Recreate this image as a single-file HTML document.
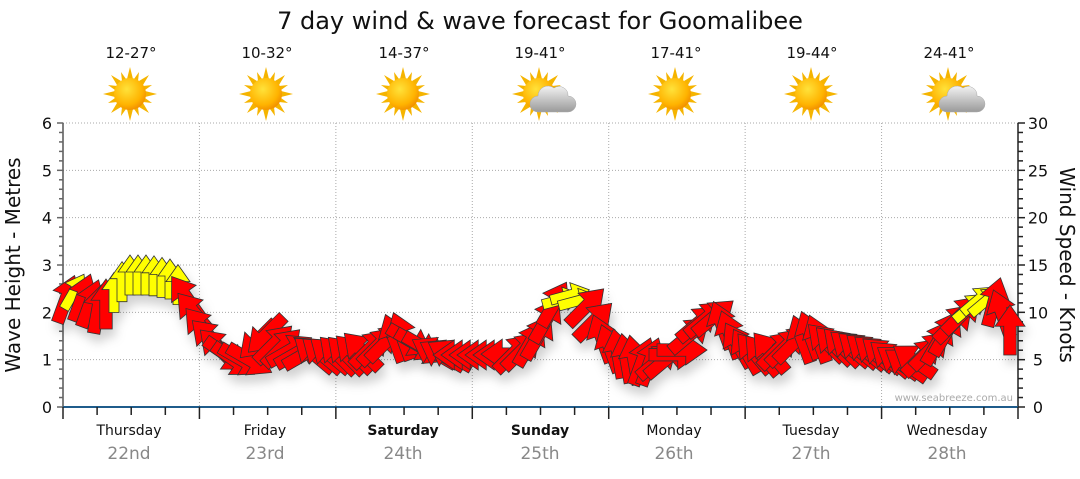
<!DOCTYPE html>
<html><head><meta charset="utf-8"><style>
body{margin:0;background:#fff;width:1080px;height:475px;overflow:hidden;font-family:"DejaVu Sans","Liberation Sans",sans-serif;}
</style></head><body>
<svg id="s" width="1080" height="475" xmlns="http://www.w3.org/2000/svg" font-family="DejaVu Sans, Liberation Sans, sans-serif">
<defs>
<radialGradient id="sg" cx="0.4" cy="0.35" r="0.7"><stop offset="0" stop-color="#ffe23a"/><stop offset="0.7" stop-color="#ffb300"/><stop offset="1" stop-color="#f08a00"/></radialGradient>
<linearGradient id="cg" x1="0" y1="0" x2="0" y2="1"><stop offset="0" stop-color="#f2f2f2"/><stop offset="1" stop-color="#9a9a9a"/></linearGradient>
<filter id="sh" x="-50%" y="-50%" width="200%" height="200%"><feDropShadow dx="3" dy="8" stdDeviation="5" flood-color="#000" flood-opacity="0.18"/></filter>
<g id="sun">
<g fill="#f5b400">
<polygon points="0,-27 3,-15 -3,-15"/><polygon points="0,27 3,15 -3,15"/><polygon points="-27,0 -15,3 -15,-3"/><polygon points="27,0 15,3 15,-3"/>
<polygon points="-19,-19 -9,-13 -13,-9"/><polygon points="19,-19 9,-13 13,-9"/><polygon points="-19,19 -9,13 -13,9"/><polygon points="19,19 9,13 13,9"/>
<polygon points="-9,-22 -4,-15 -8,-13"/><polygon points="9,-22 4,-15 8,-13"/><polygon points="-9,22 -4,15 -8,13"/><polygon points="9,22 4,15 8,13"/>
<polygon points="-22,-9 -15,-4 -13,-8"/><polygon points="22,-9 15,-4 13,-8"/><polygon points="-22,9 -15,4 -13,8"/><polygon points="22,9 15,4 13,8"/>
</g>
<circle r="16" fill="url(#sg)"/>
</g>
<g id="cloud"><path d="M-2,18 h30 a8,8 0 0 0 0,-16 a9,9 0 0 0 -14,-8 a10,10 0 0 0 -16,8 a8,8 0 0 0 0,16z" fill="url(#cg)" stroke="#aaa" stroke-width="0.5"/></g>
</defs>
<text x="540" y="29" font-size="24" text-anchor="middle" fill="#111">7 day wind &amp; wave forecast for Goomalibee</text>
<g font-size="15" fill="#111" text-anchor="middle">
<text x="131" y="58">12-27°</text><text x="267" y="58">10-32°</text><text x="404" y="58">14-37°</text><text x="540" y="58">19-41°</text><text x="676" y="58">17-41°</text><text x="812" y="58">19-44°</text><text x="949" y="58">24-41°</text>
</g>
<use href="#sun" x="130" y="94"/><use href="#sun" x="266" y="94"/><use href="#sun" x="403" y="94"/><use href="#sun" x="539" y="94"/><use href="#cloud" x="540" y="94"/>
<use href="#sun" x="675" y="94"/><use href="#sun" x="811" y="94"/><use href="#sun" x="948" y="94"/><use href="#cloud" x="949" y="94"/>
<g id="grid" stroke="#aaa" stroke-dasharray="1,2" stroke-width="1"></g>
<g id="ax" stroke="#444" stroke-width="1.5"></g>
<g id="arrows" filter="url(#sh)"></g>
<text x="1013" y="401" font-size="10" fill="#aaa" text-anchor="end">www.seabreeze.com.au</text>
<g id="lbl" fill="#111" font-size="16"></g>
<text transform="translate(20,265) rotate(-90)" font-size="20" text-anchor="middle" fill="#111">Wave Height - Metres</text>
<text transform="translate(1060,265) rotate(90)" font-size="20" text-anchor="middle" fill="#111">Wind Speed - Knots</text>
<g font-size="14" text-anchor="middle" fill="#111">
<text x="129" y="435">Thursday</text><text x="265" y="435">Friday</text><text x="403" y="435" font-weight="bold">Saturday</text><text x="540" y="435" font-weight="bold">Sunday</text><text x="674" y="435">Monday</text><text x="811" y="435">Tuesday</text><text x="947" y="435">Wednesday</text>
</g>
<g font-size="17" text-anchor="middle" fill="#888">
<text x="129" y="459">22nd</text><text x="265" y="459">23rd</text><text x="403" y="459">24th</text><text x="540" y="459">25th</text><text x="674" y="459">26th</text><text x="811" y="459">27th</text><text x="947" y="459">28th</text>
</g>
</svg>
<script>
var NS="http://www.w3.org/2000/svg";
function el(p,t,a){var e=document.createElementNS(NS,t);for(var k in a)e.setAttribute(k,a[k]);p.appendChild(e);return e;}
var L=63,R=1018,T=123,B=407,g=document.getElementById('grid'),ax=document.getElementById('ax'),lb=document.getElementById('lbl');
for(var i=1;i<7;i++){var y=B-i*(B-T)/6;el(g,'line',{x1:L,x2:R,y1:y,y2:y});var x=L+i*(R-L)/7;el(g,'line',{x1:x,x2:x,y1:T,y2:B});}
el(ax,'line',{x1:L,x2:L,y1:T,y2:B,stroke:'#555'});el(ax,'line',{x1:R,x2:R,y1:T,y2:B,stroke:'#222'});
el(ax,'line',{x1:L,x2:R,y1:B,y2:B,stroke:'#1f5c8b','stroke-width':2});
for(var i=0;i<=30;i++){var y=B-i*(B-T)/30;var big=i%5==0;el(ax,'line',{x1:L-(big?6:4),x2:L,y1:y,y2:y,stroke:'#666'});el(ax,'line',{x1:R,x2:R+(big?7:5),y1:y,y2:y,stroke:'#222'});
 if(big){var t=el(lb,'text',{x:L-16,y:y+6,'text-anchor':'middle'});t.textContent=i/5;var t2=el(lb,'text',{x:R+20,y:y+6,'text-anchor':'middle'});t2.textContent=i;}}
for(var i=0;i<=28;i++){var x=L+i*(R-L)/28;el(ax,'line',{x1:x,x2:x,y1:B,y2:B+(i%4==0?12:8),stroke:'#222'});}
var K=[[62,305,20,'r'],[72,290,30,'y'],[85,300,20,'r'],[100,310,10,'r'],[110,300,0,'r'],[118,285,0,'y'],[130,275,0,'y'],[150,275,0,'y'],[175,280,0,'y'],[188,300,-35,'r'],[200,325,-40,'r'],[215,345,-45,'r'],[232,360,125,'r'],[250,360,120,'r'],[262,330,225,'r'],[275,345,45,'r'],[295,352,60,'r'],[320,355,-50,'r'],[350,355,-45,'r'],[380,345,45,'r'],[400,335,-20,'r'],[418,345,120,'r'],[440,355,-60,'r'],[470,355,270,'r'],[500,355,270,'r'],[520,352,45,'r'],[540,335,30,'r'],[552,305,30,'r'],[570,295,75,'y'],[588,308,45,'r'],[605,345,-20,'r'],[625,358,-10,'r'],[645,362,20,'r'],[665,360,50,'r'],[682,350,90,'r'],[695,325,50,'r'],[712,315,50,'r'],[725,328,-20,'r'],[742,350,-30,'r'],[762,355,-40,'r'],[790,345,45,'r'],[810,335,-20,'r'],[832,345,-45,'r'],[860,350,-50,'r'],[882,355,-50,'r'],[905,365,-55,'r'],[925,355,45,'r'],[942,338,30,'r'],[958,318,45,'r'],[978,300,50,'y'],[995,302,15,'r'],[1006,320,-20,'r'],[1012,335,0,'r']];
var A=document.getElementById('arrows');
function arrow(x,y,a,c){var big=c=='r';var s=big?1.25:1.0;
 var p=[[0,-20],[12,-3],[5,-3],[5,20],[-5,20],[-5,-3],[-12,-3]].map(function(q){return (q[0]*s)+','+(q[1]*s)}).join(' ');
 el(A,'polygon',{points:p,transform:'translate('+x+','+y+') rotate('+a+')',fill:big?'#ff0000':'#ffff00',stroke:'#333','stroke-width':0.8});}
for(var x=66;x<=1012;x+=8){var j=0;while(j<K.length-2&&K[j+1][0]<x)j++;var a=K[j],b=K[j+1];var f=Math.max(0,Math.min(1,(x-a[0])/(b[0]-a[0])));var y=a[1]+(b[1]-a[1])*f;var n=f<0.5?a:b;arrow(x,y,n[2],n[3]);}
</script>
</body></html>
